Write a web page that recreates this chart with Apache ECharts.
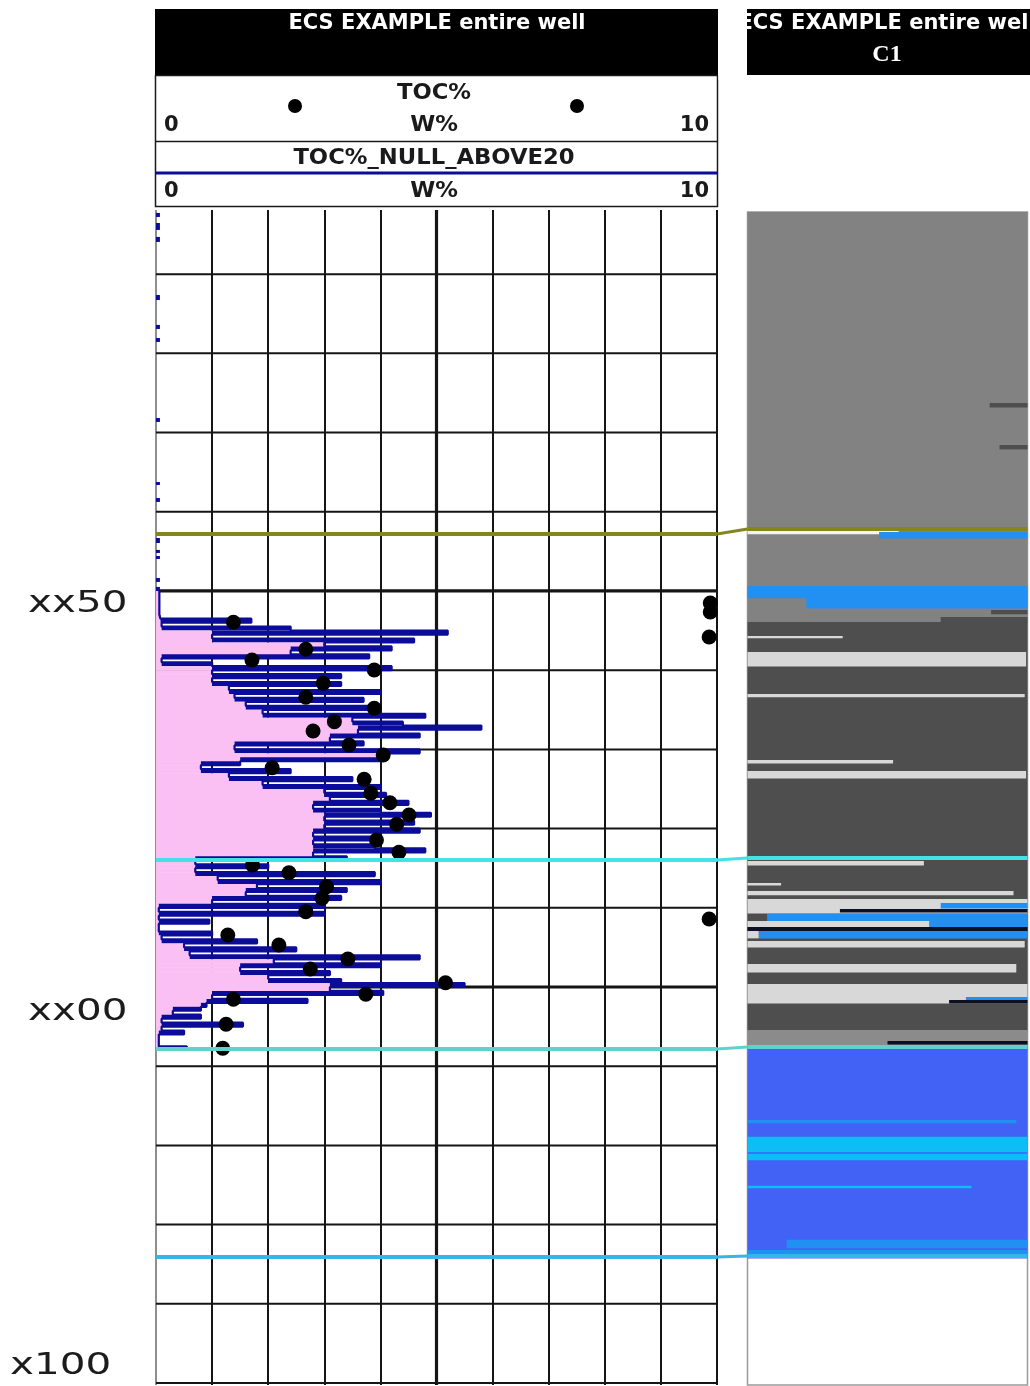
<!DOCTYPE html>
<html>
<head>
<meta charset="utf-8">
<script src="https://cdn.jsdelivr.net/npm/echarts@6/dist/echarts.min.js"></script>
<style>
  html, body { margin: 0; padding: 0; background: #ffffff; }
  #chart { width: 1030px; height: 1386px; }
</style>
</head>
<body>
<div id="chart"></div>
<script>
// ---------------- Track headers ----------------
const TRACK_TITLE = 'ECS EXAMPLE entire well';
const LITHO_TRACK_NAME = 'C1';
const CORE_CURVE_NAME = 'TOC%';
const LOG_CURVE_NAME = 'TOC%_NULL_ABOVE20';
const CURVE_UNIT = 'W%';
const SCALE_LEFT = 0;
const SCALE_RIGHT = 10;

// ---------------- Depth axis ----------------
const DEPTH_MIN = 1.9;        // top of the log tracks
const DEPTH_MAX = 150.25;     // bottom of the log tracks
const DEPTH_GRID_LINES = [10, 20, 30, 40, 50, 60, 70, 80, 90, 100, 110, 120, 130, 140, 150];
const DEPTH_GRID_MAJOR = [50, 100];
const DEPTH_LABELS = ['xx50', 'xx00', 'x100'];
const DEPTH_LABEL_DEPTHS = [51.64, 103.16, 147.85];

// ---------------- TOC log (regularly sampled) ----------------
const TOC_START_DEPTH = 50.0;
const TOC_STEP = 0.5;
const TOC_LOG = [
  0.06, 0.06, 0.06, 0.06, 0.06, 0.06, 0.06,
  0.08, 1.7, 0.1, 2.4, 5.2, 1.0, 4.6, 3.0, 4.2, 2.4,
  3.8, 0.1, 1.0, 4.2, 1.0, 3.3, 1.0, 3.3, 1.3, 4.0,
  1.4, 3.7, 1.6, 3.9, 1.9, 4.8, 3.5, 4.4, 5.8, 3.6,
  4.7, 3.1, 3.7, 1.4, 4.7, 4.1, 4.0, 1.5, 0.8, 2.4,
  1.3, 3.5, 1.9, 4.0, 3.0, 4.1, 3.1, 4.5, 2.8, 4.0,
  4.9, 3.0, 4.6, 3.0, 4.7, 2.8, 3.9, 2.8, 3.9, 4.8,
  2.8, 3.4, 0.7, 2.0, 0.7, 3.9, 1.1, 4.0, 1.8, 3.4,
  1.6, 3.3, 1.0, 3.0, 0.05, 3.0, 0.05, 0.95, 0.05, 0.05,
  1.0, 0.1, 1.8, 0.5, 2.5, 0.6, 4.7, 2.1, 4.0, 1.5,
  3.1, 2.0, 3.3, 5.5, 3.1, 4.05, 1.0, 2.7, 0.9, 0.8,
  0.3, 0.8, 0.1, 1.55, 0.1, 0.5, 0.05, 0.05, 0.05, 0.55
];

// Isolated short readings of the same log higher up the hole: [top, base]
const TOC_SPARSE_INTERVALS = [
  [2.27, 2.78], [3.54, 4.42], [5.30, 5.93], [12.63, 13.26], [16.41, 16.92],
  [18.06, 18.56], [28.16, 28.66], [36.24, 36.62], [38.26, 38.76], [43.31, 43.94],
  [44.82, 45.20], [45.58, 45.96], [48.36, 48.86], [49.49, 50.00]
];
const TOC_SPARSE_VALUES = [0.07, 0.07, 0.07, 0.07, 0.07, 0.07, 0.07, 0.07, 0.07, 0.07, 0.07, 0.07, 0.07, 0.07];

// ---------------- Core TOC measurements ----------------
const CORE_TOC = [
  1.38, 9.88, 9.88, 9.86, 2.67, 1.71, 3.89, 2.98, 2.67, 3.89, 3.18, 2.80, 3.44, 4.05,
  2.07, 3.71, 3.83, 4.17, 4.51, 4.29, 3.93, 4.33, 1.72, 2.37, 3.04, 2.96, 2.67, 9.86,
  1.28, 2.19, 3.42, 2.75, 5.16, 3.74, 1.38, 1.25, 1.19
];
const CORE_DEPTH = [
  53.95, 51.52, 52.65, 55.81, 57.36, 58.71, 59.97, 61.65, 63.42, 64.81, 66.50, 67.68, 69.44, 70.71,
  72.31, 73.78, 75.54, 76.73, 78.28, 79.46, 81.44, 82.99, 84.60, 85.57, 87.34, 88.80, 90.49, 91.41,
  93.43, 94.70, 96.46, 97.73, 99.46, 100.92, 101.55, 104.71, 107.74
];

// ---------------- Formation tops (depth in each track) ----------------
const TOP_DEPTH_LEFT = [42.80, 83.96, 107.83, 134.09];
const TOP_DEPTH_RIGHT = [42.17, 83.71, 107.58, 133.96];

// ---------------- C1 lithology track: [top, base, from, to, class] ----------------
const FACIES_CLASSES = ['clay', 'darkClay', 'calcite', 'quartz', 'pyrite', 'silt', 'anhydrite', 'dolomite', 'blank'];
const FACIES = [
  [2.15, 53.91, 0, 1, 'clay'],
  [53.91, 105.43, 0, 1, 'darkClay'],
  [105.43, 107.45, 0, 1, 'silt'],
  [107.45, 134.22, 0, 1, 'anhydrite'],
  [26.26, 26.77, 0.865, 1, 'darkClay'],
  [31.57, 32.07, 0.90, 1, 'darkClay'],
  [42.42, 42.80, 0, 0.54, 'blank'],
  [42.55, 43.31, 0.47, 1, 'quartz'],
  [49.37, 50.88, 0, 1, 'quartz'],
  [50.88, 52.15, 0.21, 1, 'quartz'],
  [52.40, 52.90, 0.87, 1, 'darkClay'],
  [53.28, 53.91, 0.69, 1, 'darkClay'],
  [55.68, 55.93, 0, 0.34, 'calcite'],
  [57.70, 59.47, 0, 0.995, 'calcite'],
  [63.00, 63.38, 0, 0.99, 'calcite'],
  [71.34, 71.72, 0, 0.52, 'calcite'],
  [72.73, 73.61, 0, 0.995, 'calcite'],
  [84.09, 84.60, 0, 0.63, 'calcite'],
  [86.87, 87.12, 0, 0.12, 'calcite'],
  [87.88, 88.38, 0, 0.95, 'calcite'],
  [88.89, 90.66, 0, 1, 'calcite'],
  [89.39, 90.03, 0.69, 1, 'quartz'],
  [90.15, 90.53, 0.33, 1, 'pyrite'],
  [90.78, 91.67, 0.07, 1, 'quartz'],
  [91.67, 92.42, 0, 0.65, 'calcite'],
  [91.67, 92.42, 0.65, 1, 'quartz'],
  [92.42, 92.93, 0, 1, 'pyrite'],
  [92.93, 93.81, 0.04, 1, 'quartz'],
  [92.93, 93.81, 0, 0.04, 'calcite'],
  [94.19, 94.95, 0, 0.99, 'calcite'],
  [97.10, 98.11, 0, 0.96, 'calcite'],
  [99.62, 102.02, 0, 1, 'calcite'],
  [101.26, 101.64, 0.78, 1, 'quartz'],
  [101.64, 102.02, 0.72, 1, 'pyrite'],
  [106.82, 107.20, 0.5, 1, 'pyrite'],
  [116.78, 117.16, 0, 0.96, 'quartz'],
  [118.92, 120.81, 0, 1, 'dolomite'],
  [121.06, 121.82, 0, 1, 'dolomite'],
  [125.10, 125.35, 0, 0.8, 'dolomite'],
  [131.92, 132.93, 0.14, 1, 'quartz'],
  [133.21, 133.84, 0, 1, 'quartz']
];

// ---------------- Styles ----------------
const FACIES_COLORS = {
  clay: '#828282', darkClay: '#4e4e4e', calcite: '#d8d8d8', quartz: '#2290f2',
  pyrite: '#0c1020', silt: '#8b8b8b', anhydrite: '#4262f6', dolomite: '#0cbdf6', blank: '#f2f2f2'
};
const TOP_COLORS = ['#85851e', '#42e2e6', '#5fd3cb', '#34b7e2'];
const LOG_COLOR = '#0c0c9a';
const FILL_COLOR = '#fbc0f3';
const GRID_COLOR = '#151515';
const HEADER_FONT = '"DejaVu Sans", Verdana, sans-serif';

const chart = echarts.init(document.getElementById('chart'), null, { renderer: 'canvas' });

// derived series data
const tocDepths = TOC_LOG.map((v, i) => TOC_START_DEPTH + i * TOC_STEP);
const tocLine = TOC_LOG.map((v, i) => [v, tocDepths[i]]);
// each sample interval: [value, top, base, lowest neighbouring value]
const tocBlocks = TOC_LOG.slice(1).map((v, i) => {
  const j = i + 1;
  const above = TOC_LOG[j - 1];
  const below = j + 1 < TOC_LOG.length ? TOC_LOG[j + 1] : v;
  return [v, tocDepths[i], tocDepths[i + 1], Math.min(above, below)];
});
const tocSparse = TOC_SPARSE_INTERVALS.map((iv, i) => [TOC_SPARSE_VALUES[i], iv[0], iv[1]]);
const coreData = CORE_TOC.map((v, i) => [v, CORE_DEPTH[i]]);
const topsData = TOP_DEPTH_LEFT.map((d, i) => [d, TOP_DEPTH_RIGHT[i], i]);
const faciesData = FACIES.map(f => [f[0], f[1], f[2], f[3], FACIES_CLASSES.indexOf(f[4])]);

const splitColors = [];
for (let i = SCALE_LEFT; i <= SCALE_RIGHT; i++) splitColors.push(i === SCALE_LEFT ? '#8e8e8e' : GRID_COLOR);

function hiddenAxis(extra) {
  return Object.assign({
    type: 'value', axisLine: { show: false }, axisTick: { show: false },
    axisLabel: { show: false }, splitLine: { show: false }
  }, extra);
}

function rectFromTo(api, x0, y0, x1, y1, fill, pad) {
  const a = api.coord([x0, y0]);
  const b = api.coord([x1, y1]);
  return {
    type: 'rect',
    shape: { x: a[0], y: a[1], width: b[0] - a[0], height: b[1] - a[1] + (pad || 0) },
    style: { fill: fill }
  };
}

const option = {
  animation: false,
  backgroundColor: '#ffffff',
  grid: [
    { left: 156, top: 210, width: 561, height: 1175 },
    { left: 717, top: 210, width: 30.5, height: 1175 },
    { left: 747.5, top: 212, width: 280, height: 1173, show: true, borderColor: '#9b9b9b', borderWidth: 1.5 }
  ],
  xAxis: [
    hiddenAxis({
      gridIndex: 0, min: SCALE_LEFT, max: SCALE_RIGHT, interval: 1,
      splitLine: { show: true, showMinLine: true, showMaxLine: true, lineStyle: { color: splitColors, width: 2 } }
    }),
    hiddenAxis({ gridIndex: 1, min: 0, max: 1 }),
    hiddenAxis({ gridIndex: 2, min: 0, max: 1 })
  ],
  yAxis: [
    hiddenAxis({ gridIndex: 0, min: DEPTH_MIN, max: DEPTH_MAX, inverse: true }),
    hiddenAxis({ gridIndex: 1, min: DEPTH_MIN, max: DEPTH_MAX, inverse: true }),
    hiddenAxis({ gridIndex: 2, min: 2.15, max: DEPTH_MAX, inverse: true })
  ],
  series: [
    // depth grid and the mid-scale line of the TOC track
    {
      type: 'custom', xAxisIndex: 0, yAxisIndex: 0, z: 1, silent: true,
      data: DEPTH_GRID_LINES.map(d => [d]),
      renderItem: function (params, api) {
        const d = api.value(0);
        const a = api.coord([SCALE_LEFT, d]);
        const b = api.coord([SCALE_RIGHT, d]);
        const major = DEPTH_GRID_MAJOR.indexOf(d) >= 0;
        const children = [{
          type: 'line', shape: { x1: a[0], y1: a[1], x2: b[0], y2: b[1] },
          style: { stroke: GRID_COLOR, lineWidth: major ? 3.2 : 2 }
        }];
        if (params.dataIndex === 0) {
          const m0 = api.coord([(SCALE_LEFT + SCALE_RIGHT) / 2, DEPTH_MIN]);
          const m1 = api.coord([(SCALE_LEFT + SCALE_RIGHT) / 2, DEPTH_MAX]);
          children.push({
            type: 'line', shape: { x1: m0[0], y1: m0[1], x2: m1[0], y2: m1[1] },
            style: { stroke: GRID_COLOR, lineWidth: 3.2 }
          });
        }
        return { type: 'group', children: children };
      }
    },
    // shading left of the TOC log; sample peaks beyond their neighbours are drawn as solid trace
    {
      type: 'custom', xAxisIndex: 0, yAxisIndex: 0, z: 2, silent: true,
      data: tocBlocks,
      encode: { x: 0, y: [1, 2] },
      renderItem: function (params, api) {
        const v = api.value(0), top = api.value(1), base = api.value(2), low = api.value(3);
        const edge = Math.min(v, low);
        const children = [rectFromTo(api, SCALE_LEFT, top, edge, base, FILL_COLOR, 0.6)];
        if (v > edge) children.push(rectFromTo(api, edge, top, v, base, LOG_COLOR, 0));
        return { type: 'group', children: children };
      }
    },
    // short isolated readings higher up
    {
      type: 'custom', xAxisIndex: 0, yAxisIndex: 0, z: 3, silent: true,
      data: tocSparse,
      encode: { x: 0, y: [1, 2] },
      renderItem: function (params, api) {
        return rectFromTo(api, SCALE_LEFT, api.value(1), api.value(0), api.value(2), LOG_COLOR, 0);
      }
    },
    // TOC%_NULL_ABOVE20 log
    {
      name: LOG_CURVE_NAME, type: 'line', xAxisIndex: 0, yAxisIndex: 0, z: 4,
      data: tocLine, step: 'end', symbol: 'none', silent: true,
      lineStyle: { color: LOG_COLOR, width: 2.2, opacity: 1 }
    },
    // TOC% core points
    {
      name: CORE_CURVE_NAME, type: 'scatter', xAxisIndex: 0, yAxisIndex: 0, z: 5,
      data: coreData, symbol: 'circle', symbolSize: 15, silent: true,
      itemStyle: { color: '#000000', opacity: 1 }
    },
    // lithology fractions in the C1 track
    {
      type: 'custom', xAxisIndex: 2, yAxisIndex: 2, z: 2, silent: true,
      data: faciesData,
      encode: { x: [2, 3], y: [0, 1] },
      renderItem: function (params, api) {
        const cls = FACIES_CLASSES[api.value(4)];
        return rectFromTo(api, api.value(2), api.value(0), api.value(3), api.value(1), FACIES_COLORS[cls], 0.4);
      }
    },
    // formation tops: TOC track, correlation link, C1 track
    {
      type: 'custom', xAxisIndex: 0, yAxisIndex: 0, z: 8, silent: true,
      data: topsData,
      renderItem: function (params, api) {
        const a = api.coord([SCALE_LEFT, api.value(0)]);
        const b = api.coord([SCALE_RIGHT, api.value(0)]);
        return { type: 'line', shape: { x1: a[0], y1: a[1], x2: b[0], y2: b[1] },
          style: { stroke: TOP_COLORS[api.value(2)], lineWidth: 4 } };
      }
    },
    {
      type: 'custom', xAxisIndex: 1, yAxisIndex: 1, z: 8, silent: true,
      data: topsData,
      renderItem: function (params, api) {
        const a = api.coord([0, api.value(0)]);
        const b = api.coord([1, api.value(1)]);
        return { type: 'line', shape: { x1: a[0], y1: a[1], x2: b[0], y2: b[1] },
          style: { stroke: TOP_COLORS[api.value(2)], lineWidth: 3 } };
      }
    },
    {
      type: 'custom', xAxisIndex: 2, yAxisIndex: 2, z: 8, silent: true,
      data: topsData,
      renderItem: function (params, api) {
        const a = api.coord([0, api.value(1)]);
        const b = api.coord([1, api.value(1)]);
        return { type: 'line', shape: { x1: a[0], y1: a[1], x2: b[0], y2: b[1] },
          style: { stroke: TOP_COLORS[api.value(2)], lineWidth: 4 } };
      }
    }
  ]
};

chart.setOption(option);

// ---------------- Headers and depth labels ----------------
function txt(x, y, text, font, fill, align, scaleX) {
  return {
    type: 'text', x: x, y: y, z: 110, silent: true, scaleX: scaleX || 1,
    style: { text: text, font: font, fill: fill, textAlign: align || 'center',
      textVerticalAlign: 'middle', verticalAlign: 'middle' }
  };
}

const headFont = 'bold 21px ' + HEADER_FONT;
const graphics = [
  // TOC track header
  { type: 'rect', z: 100, silent: true, shape: { x: 155, y: 9, width: 563, height: 66 }, style: { fill: '#000000' } },
  txt(437, 24, TRACK_TITLE, headFont, '#ffffff'),
  { type: 'rect', z: 100, silent: true, shape: { x: 155.5, y: 75.5, width: 562, height: 131 },
    style: { fill: '#ffffff', stroke: '#1a1a1a', lineWidth: 1.5 } },
  { type: 'line', z: 101, silent: true, shape: { x1: 155.5, y1: 141.5, x2: 717.5, y2: 141.5 },
    style: { stroke: '#1a1a1a', lineWidth: 1.5 } },
  txt(434, 94, CORE_CURVE_NAME, headFont, '#1a1a1a', 'center', 1.08),
  { type: 'circle', z: 110, silent: true, shape: { cx: 295, cy: 106, r: 7 }, style: { fill: '#000000' } },
  { type: 'circle', z: 110, silent: true, shape: { cx: 577, cy: 106, r: 7 }, style: { fill: '#000000' } },
  txt(164, 126, String(SCALE_LEFT), headFont, '#1a1a1a', 'left'),
  txt(434, 126, CURVE_UNIT, headFont, '#1a1a1a', 'center', 1.08),
  txt(709, 126, String(SCALE_RIGHT), headFont, '#1a1a1a', 'right'),
  txt(434, 159, LOG_CURVE_NAME, headFont, '#1a1a1a', 'center', 1.08),
  { type: 'line', z: 101, silent: true, shape: { x1: 156, y1: 173, x2: 717, y2: 173 },
    style: { stroke: LOG_COLOR, lineWidth: 3 } },
  txt(164, 192, String(SCALE_LEFT), headFont, '#1a1a1a', 'left'),
  txt(434, 192, CURVE_UNIT, headFont, '#1a1a1a', 'center', 1.08),
  txt(709, 192, String(SCALE_RIGHT), headFont, '#1a1a1a', 'right'),
  // C1 track header
  { type: 'rect', z: 100, silent: true, shape: { x: 747, y: 9, width: 290, height: 66 }, style: { fill: '#000000' } },
  txt(887, 24, TRACK_TITLE, headFont, '#ffffff'),
  txt(887, 55, LITHO_TRACK_NAME, 'bold 24px "Liberation Serif", serif', '#ffffff'),
  // gap between the two headers
  { type: 'rect', z: 120, silent: true, shape: { x: 718.5, y: 0, width: 28.3, height: 80 }, style: { fill: '#ffffff' } }
];

const DEPTH_LABEL_LEFT = [28, 28, 10];
DEPTH_LABELS.forEach(function (label, i) {
  const y = chart.convertToPixel({ yAxisIndex: 0 }, DEPTH_LABEL_DEPTHS[i]);
  graphics.push(txt(DEPTH_LABEL_LEFT[i], y, label, '30px ' + HEADER_FONT, '#1c1c1c', 'left', 1.35));
});

chart.setOption({ graphic: graphics });
</script>
</body>
</html>
